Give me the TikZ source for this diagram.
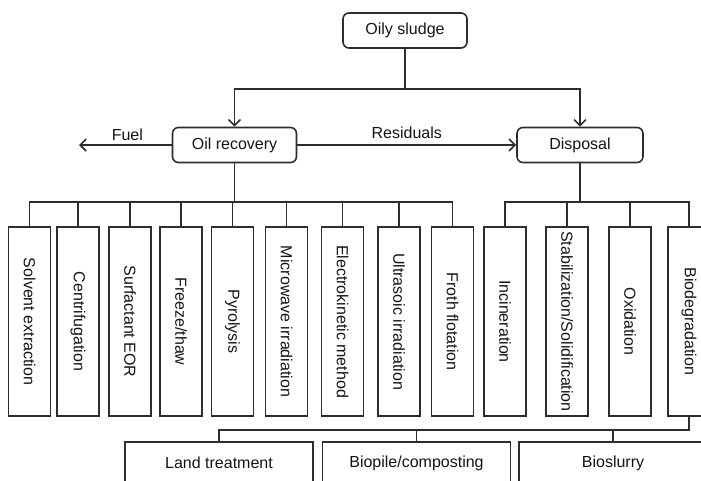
\documentclass[tikz,border=0pt]{standalone}
\usepackage{fontspec}
\setmainfont{Liberation Sans}
\usepackage{graphicx}
\usepackage{xcolor}
\usetikzlibrary{arrows.meta, positioning}
\definecolor{linegray}{RGB}{45,45,45}
\definecolor{textgray}{RGB}{20,20,20}

\begin{document}
\begin{tikzpicture}[x=1pt, y=-1pt,
  every node/.style={text=textgray, font=\fontsize{16}{19}\selectfont},
  conn/.style={draw=linegray, line width=1.6pt},
  arr/.style={conn, -{Straight Barb[length=6pt, width=12pt]}},
  headbox/.style={conn, rounded corners=6pt, minimum width=124pt, minimum height=35pt},
  methbox/.style={conn, minimum width=42pt, minimum height=189pt, inner sep=0pt},
  bedbox/.style={conn, minimum width=188pt, minimum height=42pt}]
  \useasboundingbox (0,0) rectangle (701,480);
  \clip (0,0) rectangle (701,480);
  % top level
  \node[headbox] (sludge) at (405,30.5) {Oily sludge};
  \node[headbox] (oilrec) at (234.5,145) {Oil recovery};
  \node[headbox, minimum width=126pt] (disposal) at (580,145) {Disposal};
  % split of the sludge
  \draw[conn] (sludge.south) -- ++(0,40) coordinate (split);
  \draw[arr] (split) -| (oilrec);
  \draw[arr] (split) -| (disposal);
  % outputs of oil recovery
  \coordinate (fuelend) at (79,145);
  \draw[arr] (oilrec) -- (fuelend) node[midway, above, xshift=2pt] {Fuel};
  \draw[arr] (oilrec) -- (disposal) node[midway, above, yshift=2pt] {Residuals};
  % methods, rotated labels
  \foreach \i/\cx/\lbl in {1/29.5/Solvent extraction, 2/78/Centrifugation,
      3/130/Surfactant EOR, 4/181/{Freeze/thaw}, 5/232.5/Pyrolysis,
      6/286.5/Microwave irradiation, 7/342.5/Electrokinetic method,
      8/399/Ultrasoic irradiation, 9/452.5/Froth flotation,
      10/505/Incineration, 11/567/{Stabilization/Solidification},
      12/630/Oxidation, 13/689/Biodegradation} {
    \node[methbox] (m\i) at (\cx,321.5) {\rotatebox{-90}{\lbl}};
    \draw[conn] (m\i.north) -- ++(0,-24) coordinate (t\i);
  }
  % buses
  \draw[conn] (m1.north) -- (t1) -- (t9) -- (m9.north);
  \draw[conn] (oilrec) -- (oilrec |- t1);
  \draw[conn] (m10.north) -- (t10) -- (t13) -- (m13.north);
  \draw[conn] (disposal) -- (disposal |- t10);
  % biodegradation options
  \node[bedbox] (bed1) at (219,463) {Land treatment};
  \node[bedbox] (bed2) at (416.5,463) {Biopile/composting};
  \node[bedbox] (bed3) at (613,463) {Bioslurry};
  \draw[conn] (m13.south) -- ++(0,13) coordinate (lowbus) -| (bed1);
  \draw[conn] (bed2) -- (bed2 |- lowbus);
  \draw[conn] (bed3) -- (bed3 |- lowbus);
\end{tikzpicture}
\end{document}
